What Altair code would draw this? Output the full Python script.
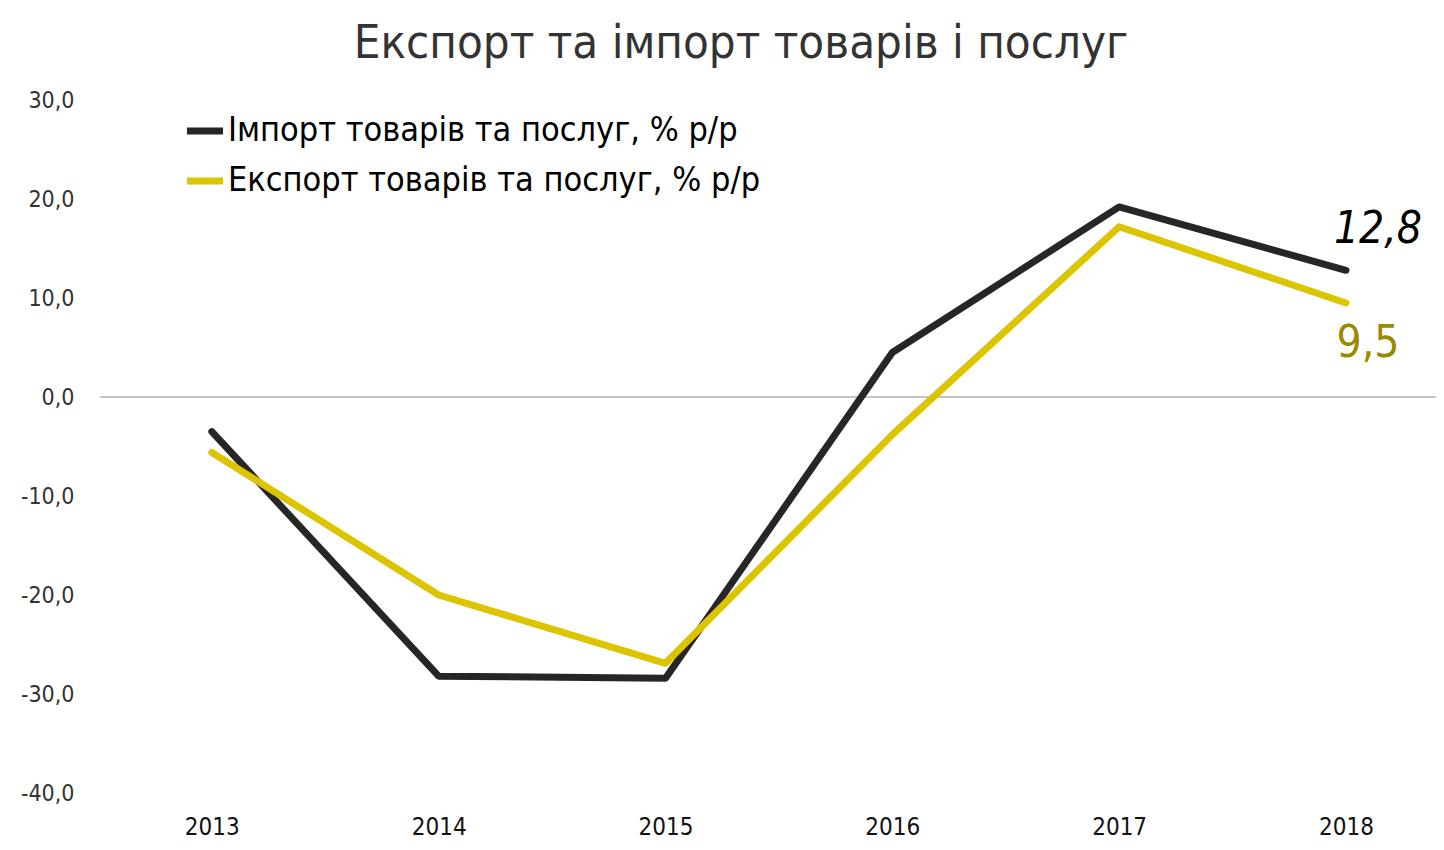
import altair as alt
import pandas as pd

years = ["2013", "2014", "2015", "2016", "2017", "2018"]
imports = [-3.5, -28.2, -28.4, 4.5, 19.2, 12.8]
exports = [-5.6, -20.0, -26.9, -3.8, 17.2, 9.5]
series_names = ["Імпорт товарів та послуг, % р/р", "Експорт товарів та послуг, % р/р"]
series_colors = ["#262626", "#dcc400"]
title_text = "Експорт та імпорт товарів і послуг"

rows = []
for name, vals in zip(series_names, [imports, exports]):
    for y, v in zip(years, vals):
        rows.append({"year": y, "value": v, "series": name})
df = pd.DataFrame(rows)

lab_df = pd.DataFrame({
    "year": [years[-1], years[-1]],
    "value": [imports[-1], exports[-1]],
    "label": [f"{imports[-1]:.1f}".replace(".", ","), f"{exports[-1]:.1f}".replace(".", ",")],
})

FONT = "DejaVu Sans Condensed, Roboto"

xscale = alt.Scale(type="point", domain=years, padding=0.445, align=0.554)
yscale = alt.Scale(domain=[-40, 30], nice=False, zero=False)

lines = alt.Chart(df).mark_line(strokeWidth=7, strokeCap="round", strokeJoin="round").encode(
    x=alt.X("year:N", scale=xscale, sort=years,
            axis=alt.Axis(title=None, domain=False, ticks=False, labelAngle=0,
                          labelFontSize=24, labelColor="#111", labelFont=FONT,
                          labelPadding=22)),
    y=alt.Y("value:Q", scale=yscale,
            axis=alt.Axis(title=None, domain=False, ticks=False, grid=False,
                          values=[-40, -30, -20, -10, 0, 10, 20, 30],
                          labelExpr="replace(replace(format(datum.value, '.1f'), '.', ','), '\u2212', '-')",
                          labelFontSize=23, labelColor="#333", labelFont=FONT,
                          labelPadding=26)),
    color=alt.Color("series:N", scale=alt.Scale(domain=series_names, range=series_colors),
                    legend=alt.Legend(title=None, orient="none", legendX=83, legendY=9,
                                      symbolType="stroke", symbolStrokeWidth=7,
                                      symbolSize=1300, labelFontSize=34, labelFont=FONT,
                                      labelColor="#000", labelOffset=1, rowPadding=11,
                                      labelLimit=0)),
    order=alt.Order("year:N"),
)

zero = alt.Chart(pd.DataFrame({"v": [0]})).mark_rule(color="#888", strokeWidth=1).encode(
    y=alt.Y("v:Q", scale=yscale)
)

lab_imp = alt.Chart(lab_df.iloc[[0]]).mark_text(
    font=FONT, fontSize=44, fontStyle="italic", color="#000", dx=32, dy=-40
).encode(x=alt.X("year:N", scale=xscale, sort=years), y=alt.Y("value:Q", scale=yscale), text="label:N")

lab_exp = alt.Chart(lab_df.iloc[[1]]).mark_text(
    font=FONT, fontSize=44, color="#9a8a00", dx=22, dy=41
).encode(x=alt.X("year:N", scale=xscale, sort=years), y=alt.Y("value:Q", scale=yscale), text="label:N")

chart = alt.layer(zero, lines, lab_imp, lab_exp).properties(
    width=1336, height=693,
    title=alt.TitleParams(title_text, fontSize=47, font=FONT, fontWeight="normal",
                          color="#333", anchor="middle", dx=-27, offset=21),
    autosize=alt.AutoSizeParams(type="none"),
    padding={"left": 92, "top": 92, "right": 0, "bottom": 48},
).configure_view(stroke=None)

chart.save("out.html", embed_options={"renderer": "svg", "actions": False})
